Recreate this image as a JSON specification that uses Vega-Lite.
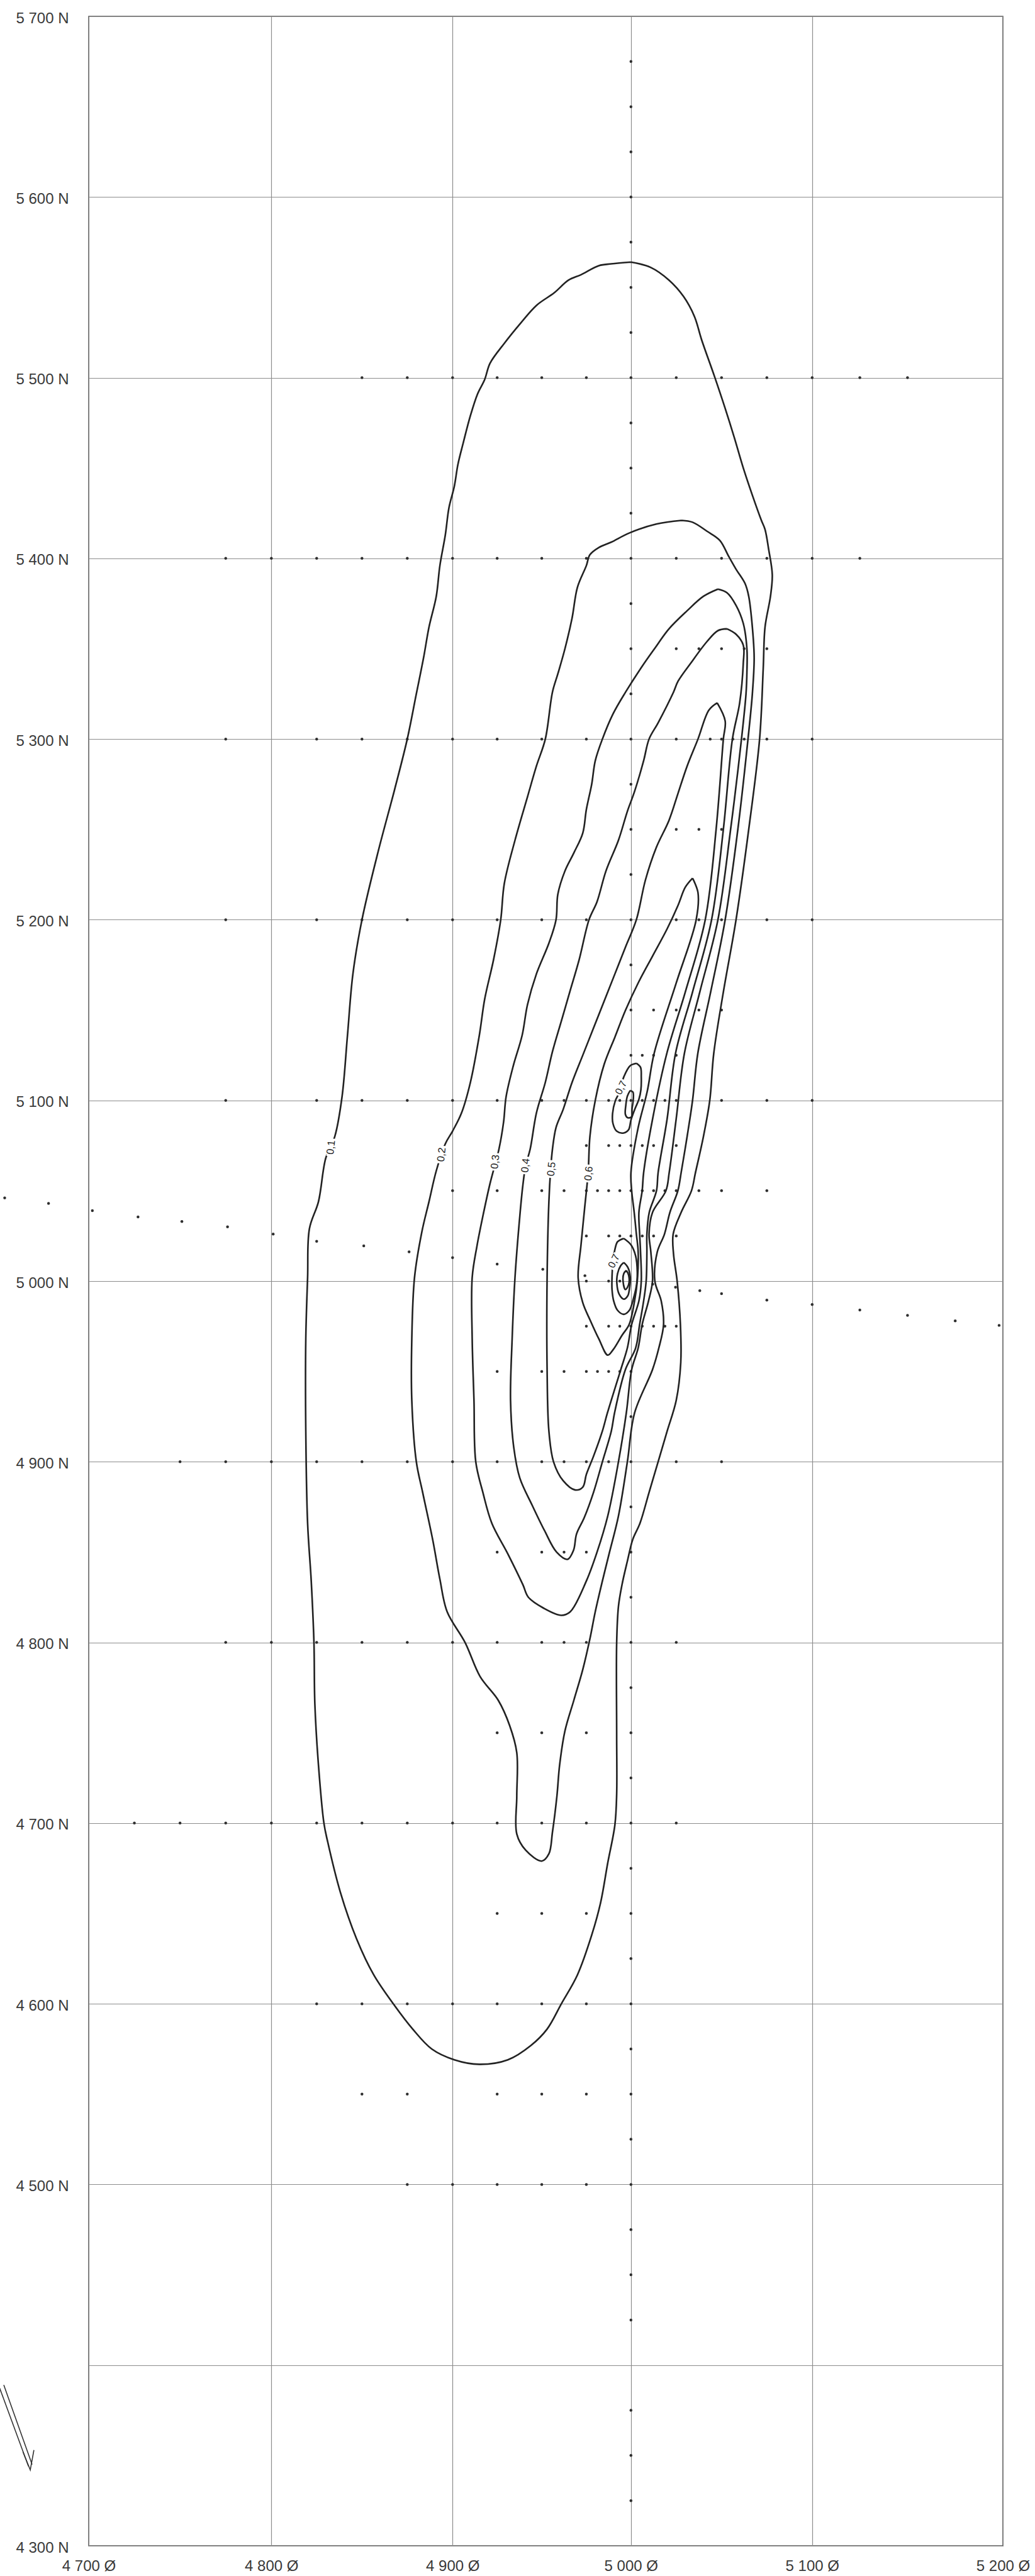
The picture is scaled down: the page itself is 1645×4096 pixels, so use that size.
{
"$schema": "https://vega.github.io/schema/vega-lite/v6.json",
"width": 1453, "height": 4022,
"autosize": {"type": "none"},
"padding": {"left": 141, "top": 26, "right": 51, "bottom": 48},
"config": {"view": {"stroke": "#4a4a4a", "strokeWidth": 1.5}, "font": "Liberation Sans"},
"datasets": {
"contours": [
{"c":"1","x":5000,"y":5564},{"c":"1","x":4989,"y":5563},{"c":"1","x":4982,"y":5562},{"c":"1","x":4972,"y":5557},{"c":"1","x":4965,"y":5554},{"c":"1","x":4957,"y":5547},{"c":"1","x":4947,"y":5540},{"c":"1","x":4938,"y":5530},{"c":"1","x":4929,"y":5519},{"c":"1","x":4921,"y":5508},{"c":"1","x":4918,"y":5499},{"c":"1","x":4914,"y":5491},{"c":"1","x":4910,"y":5479},{"c":"1","x":4906,"y":5464},{"c":"1","x":4903,"y":5452},{"c":"1","x":4901,"y":5440},{"c":"1","x":4898,"y":5428},{"c":"1","x":4896,"y":5413},{"c":"1","x":4893,"y":5396},{"c":"1","x":4891,"y":5379},{"c":"1","x":4887,"y":5362},{"c":"1","x":4884,"y":5345},{"c":"1","x":4880,"y":5325},{"c":"1","x":4875,"y":5300},{"c":"1","x":4868,"y":5272},{"c":"1","x":4859,"y":5238},{"c":"1","x":4850,"y":5200},{"c":"1","x":4845,"y":5170},{"c":"1","x":4842,"y":5136},{"c":"1","x":4839,"y":5102},{"c":"1","x":4835,"y":5080},{"c":"1","x":4830,"y":5068},{"c":"1","x":4826,"y":5044},{"c":"1","x":4821,"y":5029},{"c":"1","x":4820,"y":5002},{"c":"1","x":4819,"y":4968},{"c":"1","x":4819,"y":4917},{"c":"1","x":4820,"y":4866},{"c":"1","x":4822,"y":4834},{"c":"1","x":4823.5,"y":4800},{"c":"1","x":4824,"y":4766},{"c":"1","x":4826,"y":4732},{"c":"1","x":4829,"y":4700},{"c":"1","x":4831,"y":4690},{"c":"1","x":4838,"y":4662},{"c":"1","x":4847,"y":4636},{"c":"1","x":4856.5,"y":4616},{"c":"1","x":4868,"y":4599},{"c":"1","x":4878,"y":4586},{"c":"1","x":4888.5,"y":4575},{"c":"1","x":4901,"y":4569},{"c":"1","x":4915,"y":4566.5},{"c":"1","x":4931,"y":4569},{"c":"1","x":4944,"y":4577},{"c":"1","x":4953,"y":4586},{"c":"1","x":4961,"y":4600},{"c":"1","x":4970,"y":4616},{"c":"1","x":4978,"y":4638},{"c":"1","x":4983,"y":4656},{"c":"1","x":4987,"y":4678},{"c":"1","x":4991,"y":4699},{"c":"1","x":4992,"y":4716},{"c":"1","x":4992,"y":4749},{"c":"1","x":4992,"y":4800},{"c":"1","x":4993,"y":4820},{"c":"1","x":4995,"y":4832},{"c":"1","x":4998,"y":4845},{"c":"1","x":5001,"y":4857},{"c":"1","x":5005,"y":4866},{"c":"1","x":5010,"y":4883},{"c":"1","x":5015,"y":4900},{"c":"1","x":5020,"y":4917},{"c":"1","x":5025,"y":4934},{"c":"1","x":5027.5,"y":4955},{"c":"1","x":5027.3,"y":4976},{"c":"1","x":5025.5,"y":5000},{"c":"1","x":5023.5,"y":5015},{"c":"1","x":5023.3,"y":5026},{"c":"1","x":5027.7,"y":5038},{"c":"1","x":5033.4,"y":5050},{"c":"1","x":5035.6,"y":5060},{"c":"1","x":5040,"y":5080},{"c":"1","x":5043.5,"y":5100},{"c":"1","x":5045.7,"y":5126},{"c":"1","x":5051,"y":5160},{"c":"1","x":5058,"y":5200},{"c":"1","x":5065,"y":5250},{"c":"1","x":5071,"y":5300},{"c":"1","x":5073,"y":5339},{"c":"1","x":5074,"y":5362},{"c":"1","x":5077,"y":5379},{"c":"1","x":5078,"y":5391},{"c":"1","x":5076,"y":5405},{"c":"1","x":5074,"y":5416},{"c":"1","x":5072,"y":5421},{"c":"1","x":5067,"y":5435},{"c":"1","x":5062,"y":5450},{"c":"1","x":5057,"y":5467},{"c":"1","x":5052,"y":5483},{"c":"1","x":5046,"y":5501},{"c":"1","x":5039,"y":5521},{"c":"1","x":5035,"y":5534},{"c":"1","x":5029,"y":5545},{"c":"1","x":5021,"y":5554},{"c":"1","x":5011,"y":5561},{"c":"1","x":5000,"y":5564},

{"c":"2","x":5028,"y":5421},{"c":"2","x":5014,"y":5419},{"c":"2","x":4999,"y":5414},{"c":"2","x":4989,"y":5409},{"c":"2","x":4982,"y":5406},{"c":"2","x":4977,"y":5402},{"c":"2","x":4975,"y":5396},{"c":"2","x":4970,"y":5384},{"c":"2","x":4967,"y":5367},{"c":"2","x":4963,"y":5350},{"c":"2","x":4959,"y":5336},{"c":"2","x":4956,"y":5326},{"c":"2","x":4952,"y":5300},{"c":"2","x":4947,"y":5285},{"c":"2","x":4942,"y":5268},{"c":"2","x":4935,"y":5244},{"c":"2","x":4929,"y":5220},{"c":"2","x":4927,"y":5200},{"c":"2","x":4923,"y":5178},{"c":"2","x":4918,"y":5156},{"c":"2","x":4915,"y":5136},{"c":"2","x":4910,"y":5110},{"c":"2","x":4905,"y":5093},{"c":"2","x":4900,"y":5083},{"c":"2","x":4896,"y":5076},{"c":"2","x":4891,"y":5061},{"c":"2","x":4887,"y":5044},{"c":"2","x":4883,"y":5027},{"c":"2","x":4879,"y":5002},{"c":"2","x":4877.5,"y":4968},{"c":"2","x":4877.5,"y":4934},{"c":"2","x":4880,"y":4900},{"c":"2","x":4883.5,"y":4883},{"c":"2","x":4889,"y":4857},{"c":"2","x":4893,"y":4835},{"c":"2","x":4897,"y":4817},{"c":"2","x":4907,"y":4800},{"c":"2","x":4915.5,"y":4781},{"c":"2","x":4925.6,"y":4768},{"c":"2","x":4932,"y":4754},{"c":"2","x":4936,"y":4739},{"c":"2","x":4936,"y":4715},{"c":"2","x":4936,"y":4694},{"c":"2","x":4941,"y":4685},{"c":"2","x":4950,"y":4679},{"c":"2","x":4954,"y":4683},{"c":"2","x":4956,"y":4695},{"c":"2","x":4958.5,"y":4715},{"c":"2","x":4960,"y":4732},{"c":"2","x":4963,"y":4751},{"c":"2","x":4968,"y":4768},{"c":"2","x":4973,"y":4785},{"c":"2","x":4977,"y":4802},{"c":"2","x":4980,"y":4817},{"c":"2","x":4984,"y":4834},{"c":"2","x":4988,"y":4850},{"c":"2","x":4993,"y":4870},{"c":"2","x":4998,"y":4900},{"c":"2","x":5002,"y":4927},{"c":"2","x":5011.9,"y":4951},{"c":"2","x":5015.4,"y":4963},{"c":"2","x":5018,"y":4976},{"c":"2","x":5016.7,"y":4989},{"c":"2","x":5013.2,"y":5000},{"c":"2","x":5014.5,"y":5016},{"c":"2","x":5018.5,"y":5026},{"c":"2","x":5021.5,"y":5038},{"c":"2","x":5025.9,"y":5050},{"c":"2","x":5027.7,"y":5060},{"c":"2","x":5031,"y":5080},{"c":"2","x":5034,"y":5100},{"c":"2","x":5036.9,"y":5126},{"c":"2","x":5044,"y":5160},{"c":"2","x":5052,"y":5200},{"c":"2","x":5059,"y":5250},{"c":"2","x":5064.6,"y":5300},{"c":"2","x":5067,"y":5325},{"c":"2","x":5068,"y":5345},{"c":"2","x":5067,"y":5362},{"c":"2","x":5065,"y":5379},{"c":"2","x":5063,"y":5386},{"c":"2","x":5058,"y":5394},{"c":"2","x":5054,"y":5401},{"c":"2","x":5049,"y":5410},{"c":"2","x":5042,"y":5415},{"c":"2","x":5034,"y":5420},{"c":"2","x":5028,"y":5421},

{"c":"3","x":5048,"y":5383},{"c":"3","x":5040,"y":5379},{"c":"3","x":5031,"y":5371},{"c":"3","x":5021,"y":5361},{"c":"3","x":5013,"y":5350},{"c":"3","x":5006,"y":5340},{"c":"3","x":4997,"y":5326},{"c":"3","x":4990,"y":5314},{"c":"3","x":4984,"y":5300},{"c":"3","x":4980,"y":5288},{"c":"3","x":4978,"y":5275},{"c":"3","x":4975,"y":5261},{"c":"3","x":4973,"y":5248},{"c":"3","x":4968,"y":5237},{"c":"3","x":4963,"y":5227},{"c":"3","x":4959,"y":5214},{"c":"3","x":4958,"y":5200},{"c":"3","x":4954,"y":5187},{"c":"3","x":4947,"y":5170},{"c":"3","x":4942,"y":5153},{"c":"3","x":4939,"y":5136},{"c":"3","x":4934,"y":5119},{"c":"3","x":4930,"y":5102},{"c":"3","x":4928.6,"y":5088},{"c":"3","x":4926,"y":5073},{"c":"3","x":4921,"y":5054},{"c":"3","x":4917,"y":5036},{"c":"3","x":4913.6,"y":5019},{"c":"3","x":4911,"y":5002},{"c":"3","x":4911,"y":4968},{"c":"3","x":4912,"y":4934},{"c":"3","x":4913,"y":4900},{"c":"3","x":4917,"y":4883},{"c":"3","x":4922,"y":4866},{"c":"3","x":4931,"y":4849},{"c":"3","x":4939.4,"y":4832},{"c":"3","x":4942.5,"y":4825},{"c":"3","x":4951,"y":4819},{"c":"3","x":4961,"y":4815},{"c":"3","x":4966,"y":4817},{"c":"3","x":4975,"y":4834},{"c":"3","x":4981,"y":4850},{"c":"3","x":4987,"y":4870},{"c":"3","x":4993,"y":4900},{"c":"3","x":4997.4,"y":4927},{"c":"3","x":5000.4,"y":4951},{"c":"3","x":5004,"y":4963},{"c":"3","x":5006.2,"y":4976},{"c":"3","x":5009.7,"y":4989},{"c":"3","x":5011.9,"y":5000},{"c":"3","x":5011,"y":5016},{"c":"3","x":5010,"y":5026},{"c":"3","x":5011.9,"y":5038},{"c":"3","x":5019.3,"y":5050},{"c":"3","x":5021.1,"y":5060},{"c":"3","x":5025,"y":5090},{"c":"3","x":5029.5,"y":5126},{"c":"3","x":5038,"y":5160},{"c":"3","x":5048,"y":5200},{"c":"3","x":5055,"y":5250},{"c":"3","x":5061,"y":5300},{"c":"3","x":5063.5,"y":5325},{"c":"3","x":5064,"y":5337},{"c":"3","x":5064,"y":5350},{"c":"3","x":5062,"y":5364},{"c":"3","x":5058,"y":5374},{"c":"3","x":5053,"y":5381},{"c":"3","x":5048,"y":5383},

{"c":"4","x":5053,"y":5361},{"c":"4","x":5048,"y":5360},{"c":"4","x":5042,"y":5354},{"c":"4","x":5033,"y":5342},{"c":"4","x":5026,"y":5332},{"c":"4","x":5023.5,"y":5326},{"c":"4","x":5015,"y":5309},{"c":"4","x":5010,"y":5300},{"c":"4","x":5007,"y":5288},{"c":"4","x":5002,"y":5271},{"c":"4","x":4998,"y":5260},{"c":"4","x":4993,"y":5244},{"c":"4","x":4986,"y":5227},{"c":"4","x":4981,"y":5210},{"c":"4","x":4976.5,"y":5200},{"c":"4","x":4971,"y":5178},{"c":"4","x":4966,"y":5161},{"c":"4","x":4961,"y":5144},{"c":"4","x":4956,"y":5127},{"c":"4","x":4952,"y":5110},{"c":"4","x":4947,"y":5093},{"c":"4","x":4943.5,"y":5073},{"c":"4","x":4941,"y":5064},{"c":"4","x":4939.4,"y":5053},{"c":"4","x":4937.7,"y":5036},{"c":"4","x":4935,"y":5002},{"c":"4","x":4933.4,"y":4968},{"c":"4","x":4932.5,"y":4934},{"c":"4","x":4934.3,"y":4908},{"c":"4","x":4937.7,"y":4891},{"c":"4","x":4944.6,"y":4876},{"c":"4","x":4951.5,"y":4862},{"c":"4","x":4958.3,"y":4850},{"c":"4","x":4964.4,"y":4846},{"c":"4","x":4967.8,"y":4851},{"c":"4","x":4969.5,"y":4860},{"c":"4","x":4973.8,"y":4869},{"c":"4","x":4979,"y":4883},{"c":"4","x":4984,"y":4900},{"c":"4","x":4989,"y":4917},{"c":"4","x":4990.8,"y":4927},{"c":"4","x":4996.9,"y":4951},{"c":"4","x":5002.6,"y":4963},{"c":"4","x":5004.8,"y":4976},{"c":"4","x":5007,"y":4989},{"c":"4","x":5008.4,"y":5000},{"c":"4","x":5008.8,"y":5016},{"c":"4","x":5008.8,"y":5026},{"c":"4","x":5010.1,"y":5038},{"c":"4","x":5014.1,"y":5050},{"c":"4","x":5015,"y":5060},{"c":"4","x":5020,"y":5090},{"c":"4","x":5024.6,"y":5126},{"c":"4","x":5034,"y":5160},{"c":"4","x":5044.5,"y":5200},{"c":"4","x":5051,"y":5250},{"c":"4","x":5056,"y":5300},{"c":"4","x":5060,"y":5320},{"c":"4","x":5062,"y":5342},{"c":"4","x":5062,"y":5352},{"c":"4","x":5058,"y":5358},{"c":"4","x":5053,"y":5361},

{"c":"5","x":5047.6,"y":5320},{"c":"5","x":5043,"y":5316},{"c":"5","x":5037,"y":5300},{"c":"5","x":5031,"y":5285},{"c":"5","x":5026,"y":5270},{"c":"5","x":5021,"y":5255},{"c":"5","x":5014,"y":5240},{"c":"5","x":5008,"y":5222},{"c":"5","x":5003,"y":5200},{"c":"5","x":4997,"y":5185},{"c":"5","x":4991,"y":5170},{"c":"5","x":4985,"y":5155},{"c":"5","x":4979,"y":5140},{"c":"5","x":4973,"y":5125},{"c":"5","x":4967,"y":5110},{"c":"5","x":4962,"y":5095},{"c":"5","x":4958,"y":5085},{"c":"5","x":4956,"y":5073},{"c":"5","x":4955,"y":5062},{"c":"5","x":4954,"y":5044},{"c":"5","x":4953,"y":5002},{"c":"5","x":4953,"y":4951},{"c":"5","x":4954,"y":4917},{"c":"5","x":4956.6,"y":4900},{"c":"5","x":4962,"y":4889.5},{"c":"5","x":4968.7,"y":4884.4},{"c":"5","x":4973,"y":4886},{"c":"5","x":4975,"y":4893},{"c":"5","x":4979,"y":4903},{"c":"5","x":4984,"y":4917},{"c":"5","x":4986.8,"y":4927},{"c":"5","x":4994.3,"y":4951},{"c":"5","x":4998,"y":4963},{"c":"5","x":5000.4,"y":4976},{"c":"5","x":5004.4,"y":4989},{"c":"5","x":5005.7,"y":5000},{"c":"5","x":5005.3,"y":5016},{"c":"5","x":5004.8,"y":5026},{"c":"5","x":5004.4,"y":5038},{"c":"5","x":5006.2,"y":5050},{"c":"5","x":5007,"y":5060},{"c":"5","x":5012,"y":5090},{"c":"5","x":5019.8,"y":5126},{"c":"5","x":5030,"y":5160},{"c":"5","x":5041,"y":5200},{"c":"5","x":5047,"y":5250},{"c":"5","x":5051,"y":5300},{"c":"5","x":5052,"y":5310},{"c":"5","x":5047.6,"y":5320},

{"c":"6","x":5034,"y":5223},{"c":"6","x":5030,"y":5218},{"c":"6","x":5026,"y":5208},{"c":"6","x":5020,"y":5195},{"c":"6","x":5012,"y":5180},{"c":"6","x":5004,"y":5165},{"c":"6","x":4997,"y":5150},{"c":"6","x":4991,"y":5135},{"c":"6","x":4985,"y":5120},{"c":"6","x":4980,"y":5100},{"c":"6","x":4977,"y":5080},{"c":"6","x":4976,"y":5060},{"c":"6","x":4974,"y":5040},{"c":"6","x":4972,"y":5020},{"c":"6","x":4970.4,"y":5002},{"c":"6","x":4973,"y":4988},{"c":"6","x":4977.3,"y":4978},{"c":"6","x":4982,"y":4968},{"c":"6","x":4987,"y":4959},{"c":"6","x":4990,"y":4962},{"c":"6","x":4995,"y":4970},{"c":"6","x":4999,"y":4976},{"c":"6","x":5002,"y":4989},{"c":"6","x":5003.5,"y":5000},{"c":"6","x":5004,"y":5016},{"c":"6","x":5003,"y":5026},{"c":"6","x":5001.8,"y":5038},{"c":"6","x":5000.4,"y":5050},{"c":"6","x":5000,"y":5060},{"c":"6","x":5004,"y":5085},{"c":"6","x":5009,"y":5105},{"c":"6","x":5012.8,"y":5126},{"c":"6","x":5025,"y":5165},{"c":"6","x":5036,"y":5200},{"c":"6","x":5037,"y":5215},{"c":"6","x":5034,"y":5223},

{"c":"7a","x":4996,"y":5023.6},{"c":"7a","x":4992.5,"y":5021.8},{"c":"7a","x":4991.2,"y":5018.3},{"c":"7a","x":4989.9,"y":5010.3},{"c":"7a","x":4989.4,"y":5002.4},{"c":"7a","x":4989.4,"y":4995.3},{"c":"7a","x":4990.3,"y":4989.1},{"c":"7a","x":4992.5,"y":4983.8},{"c":"7a","x":4996,"y":4981.6},{"c":"7a","x":4999.1,"y":4983.8},{"c":"7a","x":5001.3,"y":4990},{"c":"7a","x":5003.1,"y":4998},{"c":"7a","x":5003.5,"y":5005},{"c":"7a","x":5002.6,"y":5013.9},{"c":"7a","x":5000,"y":5020.1},{"c":"7a","x":4996,"y":5023.6},
{"c":"8a","x":4996,"y":5010.3},{"c":"8a","x":4998.2,"y":5007.7},{"c":"8a","x":4999.6,"y":5002.4},{"c":"8a","x":4999.1,"y":4995.3},{"c":"8a","x":4998.2,"y":4991.8},{"c":"8a","x":4996,"y":4990},{"c":"8a","x":4993.4,"y":4992.7},{"c":"8a","x":4992.1,"y":4998.9},{"c":"8a","x":4992.5,"y":5004.2},{"c":"8a","x":4994.3,"y":5008.6},{"c":"8a","x":4996,"y":5010.3},
{"c":"9a","x":4997.4,"y":5005.9},{"c":"9a","x":4998.7,"y":5003.3},{"c":"9a","x":4998.7,"y":4998},{"c":"9a","x":4996.9,"y":4995.3},{"c":"9a","x":4995.6,"y":4999.7},{"c":"9a","x":4996,"y":5004.2},{"c":"9a","x":4997.4,"y":5005.9},
{"c":"7b","x":5003.1,"y":5120.5},{"c":"7b","x":5005.3,"y":5118.3},{"c":"7b","x":5005.7,"y":5113},{"c":"7b","x":5005.5,"y":5105.9},{"c":"7b","x":5004.4,"y":5100.6},{"c":"7b","x":5002.2,"y":5095.3},{"c":"7b","x":5000,"y":5089.1},{"c":"7b","x":4998.7,"y":5083.8},{"c":"7b","x":4996,"y":5082},{"c":"7b","x":4992.1,"y":5082.9},{"c":"7b","x":4989.9,"y":5087.3},{"c":"7b","x":4989.7,"y":5092.7},{"c":"7b","x":4991.2,"y":5099.7},{"c":"7b","x":4993.4,"y":5104.2},{"c":"7b","x":4996,"y":5113},{"c":"7b","x":4999.6,"y":5119.2},{"c":"7b","x":5003.1,"y":5120.5},
{"c":"8b","x":4999.6,"y":5105.5},{"c":"8b","x":5001.1,"y":5104.6},{"c":"8b","x":5001.3,"y":5100.6},{"c":"8b","x":5000.6,"y":5095.3},{"c":"8b","x":5000.3,"y":5090.9},{"c":"8b","x":4998.2,"y":5090.4},{"c":"8b","x":4996.9,"y":5092.2},{"c":"8b","x":4997.1,"y":5097.1},{"c":"8b","x":4998,"y":5102.4},{"c":"8b","x":4999.6,"y":5105.5}
],
"arrow": [
{"c":"a","x":4651,"y":4388},{"c":"a","x":4667,"y":4344},
{"c":"b","x":4653.5,"y":4389},{"c":"b","x":4669,"y":4345},
{"c":"h","x":4664,"y":4352},{"c":"h","x":4668,"y":4342},{"c":"h","x":4670,"y":4353}
],
"labels": [
{"t":"0,1","x":4833,"y":5074,"k":"a"},{"t":"0,2","x":4894,"y":5070,"k":"a"},{"t":"0,3","x":4924,"y":5066,"k":"a"},{"t":"0,4","x":4941,"y":5064,"k":"a"},{"t":"0,5","x":4955.5,"y":5062,"k":"a"},{"t":"0,6","x":4976.4,"y":5059.5,"k":"a"},{"t":"0,7","x":4990.5,"y":5011,"k":"b"},{"t":"0,7","x":4994.5,"y":5107,"k":"b"}
],
"points": [
{"x":5000,"y":5675},{"x":5000,"y":5650},{"x":5000,"y":5625},{"x":5000,"y":5600},{"x":5000,"y":5575},{"x":5000,"y":5550},{"x":5000,"y":5525},{"x":5000,"y":5475},{"x":5000,"y":5450},{"x":5000,"y":5425},{"x":5000,"y":5375},{"x":5000,"y":5350},{"x":5000,"y":5325},{"x":5000,"y":5275},{"x":5000,"y":5250},{"x":5000,"y":5225},{"x":5000,"y":5175},{"x":5000,"y":5150},{"x":5000,"y":5125},{"x":5000,"y":5075},{"x":5000,"y":5050},{"x":5000,"y":5025},{"x":5000,"y":4975},{"x":5000,"y":4950},{"x":5000,"y":4925},{"x":5000,"y":4875},{"x":5000,"y":4850},{"x":5000,"y":4825},{"x":5000,"y":4775},{"x":5000,"y":4750},{"x":5000,"y":4725},{"x":5000,"y":4675},{"x":5000,"y":4650},{"x":5000,"y":4625},{"x":5000,"y":4575},{"x":5000,"y":4550},{"x":5000,"y":4525},{"x":5000,"y":4475},{"x":5000,"y":4450},{"x":5000,"y":4425},{"x":5000,"y":4375},{"x":5000,"y":4350},{"x":5000,"y":4325},
{"x":4850,"y":5500},{"x":4875,"y":5500},{"x":4900,"y":5500},{"x":4925,"y":5500},{"x":4950,"y":5500},{"x":4975,"y":5500},{"x":5000,"y":5500},{"x":5025,"y":5500},{"x":5050,"y":5500},{"x":5075,"y":5500},{"x":5100,"y":5500},{"x":5125,"y":5500},{"x":5150,"y":5500},
{"x":4775,"y":5400},{"x":4800,"y":5400},{"x":4825,"y":5400},{"x":4850,"y":5400},{"x":4875,"y":5400},{"x":4900,"y":5400},{"x":4925,"y":5400},{"x":4950,"y":5400},{"x":4975,"y":5400},{"x":5000,"y":5400},{"x":5025,"y":5400},{"x":5050,"y":5400},{"x":5075,"y":5400},{"x":5100,"y":5400},{"x":5125,"y":5400},
{"x":5025,"y":5350},{"x":5037.5,"y":5350},{"x":5050,"y":5350},{"x":5062.5,"y":5350},{"x":5075,"y":5350},
{"x":4775,"y":5300},{"x":4825,"y":5300},{"x":4850,"y":5300},{"x":4875,"y":5300},{"x":4900,"y":5300},{"x":4925,"y":5300},{"x":4950,"y":5300},{"x":4975,"y":5300},{"x":5000,"y":5300},{"x":5025,"y":5300},{"x":5043.75,"y":5300},{"x":5050,"y":5300},{"x":5056.25,"y":5300},{"x":5062.5,"y":5300},{"x":5075,"y":5300},{"x":5100,"y":5300},
{"x":5025,"y":5250},{"x":5037.5,"y":5250},{"x":5050,"y":5250},
{"x":4775,"y":5200},{"x":4825,"y":5200},{"x":4850,"y":5200},{"x":4875,"y":5200},{"x":4900,"y":5200},{"x":4925,"y":5200},{"x":4950,"y":5200},{"x":4975,"y":5200},{"x":5000,"y":5200},{"x":5025,"y":5200},{"x":5037.5,"y":5200},{"x":5050,"y":5200},{"x":5075,"y":5200},{"x":5100,"y":5200},
{"x":5012.5,"y":5150},{"x":5025,"y":5150},{"x":5037.5,"y":5150},{"x":5050,"y":5150},
{"x":5006.25,"y":5125},{"x":5012.5,"y":5125},{"x":5025,"y":5125},
{"x":4775,"y":5100},{"x":4825,"y":5100},{"x":4850,"y":5100},{"x":4875,"y":5100},{"x":4900,"y":5100},{"x":4925,"y":5100},{"x":4950,"y":5100},{"x":4962.5,"y":5100},{"x":4975,"y":5100},{"x":4987.5,"y":5100},{"x":4993.75,"y":5100},{"x":5000,"y":5100},{"x":5006.25,"y":5100},{"x":5012.5,"y":5100},{"x":5018.75,"y":5100},{"x":5025,"y":5100},{"x":5050,"y":5100},{"x":5075,"y":5100},{"x":5100,"y":5100},
{"x":4975,"y":5075},{"x":4987.5,"y":5075},{"x":4993.75,"y":5075},{"x":5006.25,"y":5075},{"x":5012.5,"y":5075},{"x":5025,"y":5075},
{"x":4900,"y":5050},{"x":4925,"y":5050},{"x":4950,"y":5050},{"x":4962.5,"y":5050},{"x":4975,"y":5050},{"x":4981.25,"y":5050},{"x":4987.5,"y":5050},{"x":4993.75,"y":5050},{"x":5006.25,"y":5050},{"x":5012.5,"y":5050},{"x":5018.75,"y":5050},{"x":5025,"y":5050},{"x":5037.5,"y":5050},{"x":5050,"y":5050},{"x":5075,"y":5050},
{"x":4975,"y":5025},{"x":4987.5,"y":5025},{"x":4993.75,"y":5025},{"x":5006.25,"y":5025},{"x":5012.5,"y":5025},{"x":5025,"y":5025},
{"x":4975,"y":5000},{"x":4987.5,"y":5000},{"x":4993.75,"y":5000},
{"x":4975,"y":4975},{"x":4987.5,"y":4975},{"x":4993.75,"y":4975},{"x":5006.25,"y":4975},{"x":5012.5,"y":4975},{"x":5018.75,"y":4975},{"x":5025,"y":4975},
{"x":4925,"y":4950},{"x":4950,"y":4950},{"x":4962.5,"y":4950},{"x":4975,"y":4950},{"x":4981.25,"y":4950},{"x":4987.5,"y":4950},{"x":4993.75,"y":4950},
{"x":4750,"y":4900},{"x":4775,"y":4900},{"x":4800,"y":4900},{"x":4825,"y":4900},{"x":4850,"y":4900},{"x":4875,"y":4900},{"x":4900,"y":4900},{"x":4925,"y":4900},{"x":4950,"y":4900},{"x":4962.5,"y":4900},{"x":4975,"y":4900},{"x":4987.5,"y":4900},{"x":5000,"y":4900},{"x":5025,"y":4900},{"x":5050,"y":4900},
{"x":4925,"y":4850},{"x":4950,"y":4850},{"x":4962.5,"y":4850},{"x":4975,"y":4850},
{"x":4775,"y":4800},{"x":4800,"y":4800},{"x":4825,"y":4800},{"x":4850,"y":4800},{"x":4875,"y":4800},{"x":4900,"y":4800},{"x":4925,"y":4800},{"x":4950,"y":4800},{"x":4962.5,"y":4800},{"x":4975,"y":4800},{"x":5000,"y":4800},{"x":5025,"y":4800},
{"x":4925,"y":4750},{"x":4950,"y":4750},{"x":4975,"y":4750},
{"x":4725,"y":4700},{"x":4750,"y":4700},{"x":4775,"y":4700},{"x":4800,"y":4700},{"x":4825,"y":4700},{"x":4850,"y":4700},{"x":4875,"y":4700},{"x":4900,"y":4700},{"x":4925,"y":4700},{"x":4950,"y":4700},{"x":4975,"y":4700},{"x":5000,"y":4700},{"x":5025,"y":4700},
{"x":4925,"y":4650},{"x":4950,"y":4650},{"x":4975,"y":4650},
{"x":4825,"y":4600},{"x":4850,"y":4600},{"x":4875,"y":4600},{"x":4900,"y":4600},{"x":4925,"y":4600},{"x":4950,"y":4600},{"x":4975,"y":4600},{"x":5000,"y":4600},
{"x":4850,"y":4550},{"x":4875,"y":4550},{"x":4925,"y":4550},{"x":4950,"y":4550},{"x":4975,"y":4550},
{"x":4875,"y":4500},{"x":4900,"y":4500},{"x":4925,"y":4500},{"x":4950,"y":4500},{"x":4975,"y":4500},{"x":5000,"y":4500},
{"x":4654,"y":5046},{"x":4678,"y":5043},{"x":4702,"y":5039},{"x":4727,"y":5035.5},{"x":4751,"y":5033},{"x":4776,"y":5030},{"x":4801,"y":5026},{"x":4825,"y":5022},{"x":4851,"y":5019.5},{"x":4876,"y":5016.2},{"x":4900,"y":5013},{"x":4925,"y":5009.4},{"x":4950.6,"y":5006.5},{"x":4974.2,"y":5003},{"x":5012,"y":4998.3},{"x":5024.6,"y":4996.6},{"x":5038,"y":4994.7},{"x":5050,"y":4993},{"x":5075,"y":4989.5},{"x":5100,"y":4987},{"x":5125,"y":4984},{"x":5150,"y":4981},{"x":5175,"y":4978},{"x":5198,"y":4975.5}
]
},
"layer": [
{
"data": {"name": "points"},
"mark": {"type": "circle", "size": 20, "color": "#2e2e2e", "opacity": 1},
"encoding": {
"x": {"field": "x", "type": "quantitative",
"scale": {"domain": [4700, 4800, 4900, 5000, 5100, 5200], "range": [0, 290.3, 578.3, 861.8, 1149.8, 1453], "nice": false, "zero": false},
"axis": {"values": [4700, 4800, 4900, 5000, 5100, 5200], "title": null, "grid": true, "gridColor": "#8c8c8c", "gridWidth": 1.2, "domain": false, "ticks": false,
"labelFontSize": 24, "labelColor": "#3a3a3a", "labelPadding": 20, "labelFlush": false, "labelOverlap": false,
"labelExpr": "replace(format(datum.value, ','), ',', ' ') + ' Ø'"}},
"y": {"field": "y", "type": "quantitative",
"scale": {"domain": [4300, 5700], "nice": false, "zero": false},
"axis": {"values": [4300, 4400, 4500, 4600, 4700, 4800, 4900, 5000, 5100, 5200, 5300, 5400, 5500, 5600, 5700], "title": null, "grid": true, "gridColor": "#8c8c8c", "gridWidth": 1.2, "domain": false, "ticks": false,
"labelFontSize": 24, "labelColor": "#3a3a3a", "labelPadding": 32, "labelOffset": 3, "labelFlush": false, "labelOverlap": false,
"labelExpr": "datum.value == 4400 ? '' : replace(format(datum.value, ','), ',', ' ') + ' N'"}}
}
},
{
"data": {"name": "contours"},
"mark": {"type": "line", "color": "#222222", "strokeWidth": 2.6, "interpolate": "catmull-rom"},
"encoding": {
"x": {"field": "x", "type": "quantitative"},
"y": {"field": "y", "type": "quantitative"},
"detail": {"field": "c"},
"order": {"value": null}
}
},
{
"data": {"name": "arrow"},
"mark": {"type": "line", "color": "#333333", "strokeWidth": 1.6, "clip": false},
"encoding": {
"x": {"field": "x", "type": "quantitative"},
"y": {"field": "y", "type": "quantitative"},
"detail": {"field": "c"},
"order": {"value": null}
}
},
{
"data": {"name": "labels"},
"transform": [{"filter": "datum.k == 'a'"}],
"layer": [
{"mark": {"type": "point", "shape": "M-1,-0.45L1,-0.45L1,0.45L-1,0.45Z", "size": 800, "filled": true, "color": "white", "opacity": 1, "angle": -84},
"encoding": {"x": {"field": "x", "type": "quantitative"}, "y": {"field": "y", "type": "quantitative"}}},
{"mark": {"type": "text", "fontSize": 16.5, "color": "#222222", "angle": -84, "align": "center", "baseline": "middle"},
"encoding": {"x": {"field": "x", "type": "quantitative"}, "y": {"field": "y", "type": "quantitative"}, "text": {"field": "t"}}}
]
},
{
"data": {"name": "labels"},
"transform": [{"filter": "datum.k == 'b'"}],
"layer": [
{"mark": {"type": "point", "shape": "M-1,-0.45L1,-0.45L1,0.45L-1,0.45Z", "size": 720, "filled": true, "color": "white", "opacity": 1, "angle": -64},
"encoding": {"x": {"field": "x", "type": "quantitative"}, "y": {"field": "y", "type": "quantitative"}}},
{"mark": {"type": "text", "fontSize": 16, "color": "#222222", "angle": -64, "align": "center", "baseline": "middle"},
"encoding": {"x": {"field": "x", "type": "quantitative"}, "y": {"field": "y", "type": "quantitative"}, "text": {"field": "t"}}}
]
}
]
}
